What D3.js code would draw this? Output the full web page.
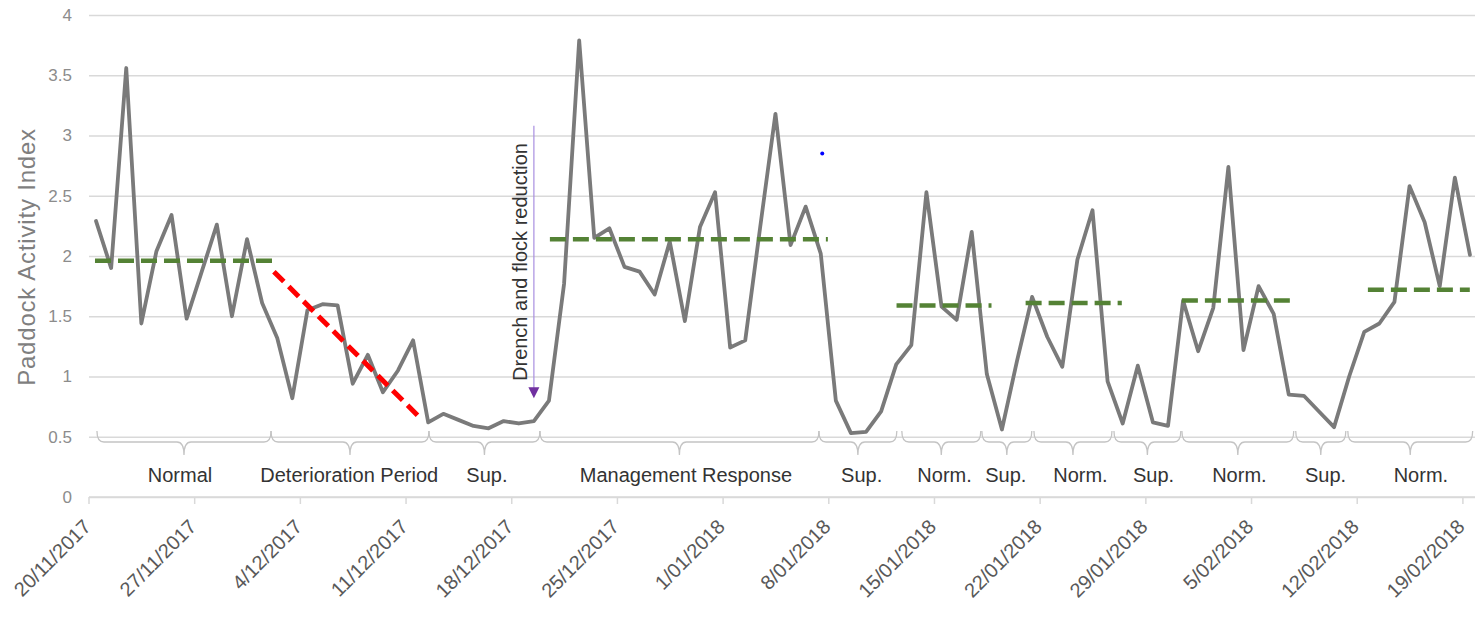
<!DOCTYPE html>
<html><head><meta charset="utf-8">
<script src="https://cdn.jsdelivr.net/npm/d3@7"></script>
<style>
body{margin:0;background:#fff;}
svg{display:block;font-family:"Liberation Sans",Arial,sans-serif;}
</style>
</head><body>
<svg id="chart" width="1475" height="617"></svg>
<script>
// ---------- data ----------
const startDate = "2017-11-20";
const activityIndex = [
  2.29,1.90,3.56,1.44,2.04,2.34,1.48,1.87,2.26,1.50,
  2.14,1.61,1.32,0.82,1.55,1.60,1.59,0.94,1.18,0.87,
  1.05,1.30,0.62,0.69,0.64,0.59,0.57,0.63,0.61,0.63,
  0.80,1.77,3.79,2.15,2.23,1.91,1.87,1.68,2.12,1.46,
  2.24,2.53,1.24,1.30,2.25,3.18,2.09,2.41,2.02,0.80,
  0.53,0.54,0.71,1.10,1.26,2.53,1.58,1.47,2.20,1.02,
  0.56,1.13,1.66,1.33,1.08,1.97,2.38,0.96,0.61,1.09,
  0.62,0.59,1.63,1.21,1.57,2.74,1.22,1.75,1.52,0.85,
  0.84,0.71,0.58,1.00,1.37,1.44,1.62,2.58,2.28,1.75,
  2.65,2.01
];
const yTicks = [0, 0.5, 1, 1.5, 2, 2.5, 3, 3.5, 4];
const yTickLabels = ["0","0.5","1","1.5","2","2.5","3","3.5","4"];
const xTickLabels = ["20/11/2017","27/11/2017","4/12/2017","11/12/2017","18/12/2017","25/12/2017",
  "1/01/2018","8/01/2018","15/01/2018","22/01/2018","29/01/2018","5/02/2018","12/02/2018","19/02/2018"];
const yTitle = "Paddock Activity Index";

// mean level segments (day offsets from start)
const meanFrom  = [0.43, 30.56, 53.52, 62.07, 72.42, 84.74];
const meanTo    = [12.35, 48.97, 59.81, 68.44, 79.57, 91.49];
const meanLevel = [1.96, 2.14, 1.59, 1.61, 1.63, 1.72];

// deterioration trend (day offset, value)
const trendFrom = [12.28, 1.87];
const trendTo   = [22.02, 0.65];

// phases (brace spans, day offsets) and their labels
const phaseFrom   = [0.56, 12.09, 22.55, 29.90, 48.38, 53.87, 59.17, 62.62, 67.92, 72.42, 79.96, 83.41];
const phaseTo     = [12.09, 22.55, 29.90, 48.38, 53.54, 59.10, 62.48, 67.79, 72.35, 79.83, 83.28, 91.68];
const phaseLabels = ["Normal","Deterioration Period","Sup.","Management Response","Sup.","Norm.",
                     "Sup.","Norm.","Sup.","Norm.","Sup.","Norm."];
const phaseLabelAt = [6.06, 17.27, 26.39, 39.57, 51.21, 56.70, 60.76, 65.70, 70.54, 76.23, 81.94, 88.25];

// annotation arrow
const arrowDay = 29.5, arrowTop = 3.08, arrowBottom = 0.82;
const arrowLabel = "Drench and flock reduction";
// stray marker
const markerDay = 48.6, markerValue = 2.85;

// ---------- scales ----------
const t0 = d3.utcParse("%Y-%m-%d")(startDate);
const day = d => new Date(t0.getTime() + d * 864e5);
const parseTick = d3.utcParse("%d/%m/%Y");
const tickDates = xTickLabels.map(parseTick);

const x = d3.scaleUtc().domain([t0, day(92)]).range([88.5, 1477.5]);
const y = d3.scaleLinear().domain([0, 4]).range([497, 15]);

const svg = d3.select("#chart");

// ---------- gridlines & y axis ----------
const gy = svg.append("g").attr("transform", "translate(89,0)")
  .call(d3.axisLeft(y).tickValues(yTicks).tickFormat((d,i)=>yTickLabels[i])
        .tickSize(-(1475 - 89)).tickPadding(17));
gy.select(".domain").remove();
gy.selectAll(".tick line").attr("stroke", "#d9d9d9").attr("stroke-width", 1.5);
gy.selectAll(".tick text").attr("fill", "#8c8c8c").attr("font-size", 17)
  .attr("font-family", "Liberation Sans, Arial, sans-serif");

// ---------- x axis ----------
const gx = svg.append("g").attr("transform", "translate(0,497)")
  .call(d3.axisBottom(x).tickValues(tickDates).tickFormat((d,i)=>xTickLabels[i]).tickSizeOuter(0).tickSize(7));
gx.select(".domain").attr("stroke", "#d9d9d9").attr("stroke-width", 1.5)
  .attr("d", `M89,0H1475`);
gx.selectAll(".tick line").attr("stroke", "#d9d9d9").attr("stroke-width", 1.5);
gx.selectAll(".tick text")
  .attr("fill", "#595959").attr("font-size", 20)
  .attr("font-family", "Liberation Sans, Arial, sans-serif")
  .attr("text-anchor", "end")
  .attr("dy", null).attr("y", null)
  .attr("transform", "translate(3,31) rotate(-45)");

// ---------- y title ----------
svg.append("text")
  .attr("transform", "translate(35,257) rotate(-90)")
  .attr("text-anchor", "middle")
  .attr("fill", "#7f7f7f").attr("font-size", 24).attr("letter-spacing", 0.8)
  .text(yTitle);

// ---------- braces ----------
const yTip = 431, yLn = 442, yPt = 455, r = 7;
const brace = (a, b) => {
  const x0 = x(day(a)), x1 = x(day(b)), xm = (x0 + x1) / 2;
  return `M${x0},${yTip} C${x0},${yLn-4} ${x0+2},${yLn} ${x0+r},${yLn} L${xm-r},${yLn} ` +
         `C${xm-2},${yLn} ${xm},${yLn+4} ${xm},${yPt} C${xm},${yLn+4} ${xm+2},${yLn} ${xm+r},${yLn} ` +
         `L${x1-r},${yLn} C${x1-2},${yLn} ${x1},${yLn-4} ${x1},${yTip}`;
};
svg.append("g").selectAll("path").data(phaseFrom).join("path")
  .attr("d", (d,i) => brace(phaseFrom[i], phaseTo[i]))
  .attr("fill", "none").attr("stroke", "#c4c4c4").attr("stroke-width", 1.3);

svg.append("g").selectAll("text").data(phaseLabels).join("text")
  .attr("x", (d,i) => x(day(phaseLabelAt[i])))
  .attr("y", 482)
  .attr("text-anchor", "middle")
  .attr("fill", "#333").attr("font-size", 20)
  .text(d => d);

// ---------- series line ----------
const line = d3.line().x((d,i) => x(day(i + 0.5))).y(d => y(d));
svg.append("path").datum(activityIndex)
  .attr("d", line).attr("fill", "none")
  .attr("stroke", "#7a7a7a").attr("stroke-width", 3.8)
  .attr("stroke-linejoin", "round").attr("stroke-linecap", "round");

// ---------- mean levels ----------
svg.append("g").selectAll("line").data(meanLevel).join("line")
  .attr("x1", (d,i) => x(day(meanFrom[i]))).attr("x2", (d,i) => x(day(meanTo[i])))
  .attr("y1", d => y(d)).attr("y2", d => y(d))
  .attr("stroke", "#548235").attr("stroke-width", 4.5).attr("stroke-dasharray", "16,7");

// ---------- trend ----------
svg.append("line")
  .attr("x1", x(day(trendFrom[0]))).attr("y1", y(trendFrom[1]))
  .attr("x2", x(day(trendTo[0]))).attr("y2", y(trendTo[1]))
  .attr("stroke", "#ff0000").attr("stroke-width", 5).attr("stroke-dasharray", "14,7");

// ---------- arrow annotation ----------
const ax = x(day(arrowDay)), ayTop = y(arrowTop), ayBot = y(arrowBottom);
svg.append("line").attr("x1", ax).attr("x2", ax).attr("y1", ayTop).attr("y2", ayBot - 10)
  .attr("stroke", "#a88fe0").attr("stroke-width", 1.2);
svg.append("path")
  .attr("d", `M${ax-5.5},${ayBot-11} L${ax+5.5},${ayBot-11} L${ax},${ayBot} Z`)
  .attr("fill", "#7030a0");
svg.append("text")
  .attr("transform", `translate(${ax-7},${(ayTop+ayBot)/2}) rotate(-90)`)
  .attr("text-anchor", "middle").attr("fill", "#333").attr("font-size", 20)
  .text(arrowLabel);

// ---------- marker ----------
svg.append("circle").attr("cx", x(day(markerDay))).attr("cy", y(markerValue))
  .attr("r", 2).attr("fill", "#0000ff");
</script>
</body></html>
